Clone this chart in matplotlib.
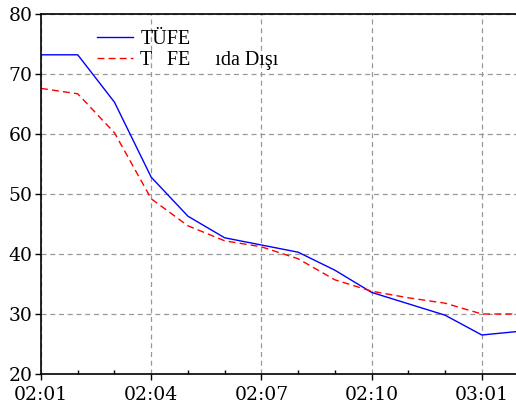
import numpy as np
import matplotlib
matplotlib.use("Agg")
import matplotlib.pyplot as plt
from matplotlib.ticker import MultipleLocator

# monthly data, 02:01 .. 03:02
months = np.arange(14)
tufe = [73.2, 73.2, 65.3, 52.8, 46.3, 42.7, 41.5, 40.3, 37.3, 33.6, 31.7, 29.8, 26.5, 27.1]
tufe_gd = [67.6, 66.7, 60.2, 49.2, 44.7, 42.2, 41.2, 39.2, 35.7, 33.8, 32.7, 31.8, 30.0, 30.0]
tick_pos = [0, 3, 6, 9, 12]
tick_labels = ["02:01", "02:04", "02:07", "02:10", "03:01"]
series_labels = ["TÜFE", "T   FE     ıda Dışı"]

plt.rcParams['font.family'] = ['DejaVu Serif']

fig = plt.figure(figsize=(5.16, 4.09), dpi=100)
ax = fig.add_axes([41/516, 1 - 374/409, 1 - 41/516, 360/409])

ax.plot(months, tufe, color='blue', lw=1.0, label=series_labels[0])
ax.plot(months, tufe_gd, color='red', lw=1.0, ls=(0, (5, 3)), label=series_labels[1])

ax.set_xlim(0, 12.93)
ax.set_ylim(20, 80)
ax.set_xticks(tick_pos)
ax.set_xticklabels(tick_labels)
ax.xaxis.set_minor_locator(MultipleLocator(1))
ax.set_yticks(np.arange(20, 81, 10))

ax.grid(True, which='major', color='#999999', ls=(0, (4, 3)), lw=0.9)
ax.tick_params(axis='both', which='major', labelsize=13.5, direction='out', length=4, width=1)
ax.tick_params(axis='y', pad=2)
ax.tick_params(axis='x', which='minor', direction='in', length=3, width=1)
ax.tick_params(axis='x', pad=5)
for s in ['left', 'bottom', 'top']:
    ax.spines[s].set_linewidth(1.2)
ax.spines['right'].set_visible(False)

ax.legend(loc='upper left', bbox_to_anchor=(56/475, 0.957), frameon=False,
          prop={'family': ['Liberation Serif'], 'size': 14.5},
          handlelength=1.8, handletextpad=0.35, borderaxespad=0, borderpad=0,
          labelspacing=0.12)

fig.savefig("out.png", dpi=100)
